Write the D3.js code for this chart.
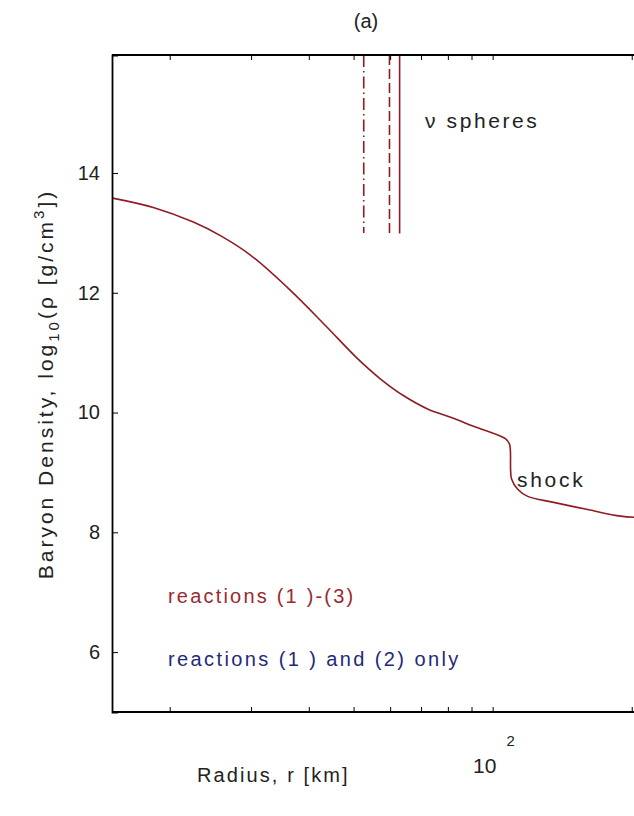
<!DOCTYPE html>
<html>
<head>
<meta charset="utf-8">
<script src="https://cdn.jsdelivr.net/npm/d3@7"></script>
<style>
  body { margin: 0; background: #fff; }
  text { font-family: "Liberation Sans", Arial, sans-serif; }
</style>
</head>
<body>
<div id="chart"></div>
<script>
// density profile
const radius = [15.05, 18.5, 22.5, 25.8, 29.9, 36.5, 43.5, 51.0, 57.2, 64.2, 72.3, 81.1, 90.9, 106.7, 108.8, 109.9, 113.3, 119.1, 135.5, 160.6, 189.2, 203];
const logRho = [13.58, 13.42, 13.18, 12.95, 12.63, 12.04, 11.45, 10.90, 10.56, 10.28, 10.06, 9.92, 9.77, 9.56, 9.47, 8.89, 8.72, 8.60, 8.50, 8.38, 8.27, 8.25];

// neutrino spheres
const sphereR = [52.6, 59.8, 62.9];
const sphereBottom = [13.0, 12.94, 12.99];
const sphereDash = ["12,4,1.5,4", "10,4", null];

const yTicks = [6, 8, 10, 12, 14];
const xTicks = [20, 30, 40, 50, 60, 70, 80, 90, 100, 200];

const width = 634, height = 816;
const mLeft = 112, mTop = 55, mBottom = 712;
const perDecade = 462;

const svg = d3.select("#chart").append("svg")
  .attr("width", width)
  .attr("height", height);

const x = d3.scaleLog()
  .domain([15, 1000])
  .range([mLeft, mLeft + perDecade * Math.log10(1000 / 15)]);

const y = d3.scaleLinear()
  .domain([5, 15.97])
  .range([mBottom, mTop]);

const red = "#8e1c22";
const ink = "#222";

svg.append("clipPath").attr("id", "plot")
  .append("rect")
  .attr("x", mLeft).attr("y", mTop)
  .attr("width", width - mLeft).attr("height", mBottom - mTop);

const g = svg.append("g").attr("clip-path", "url(#plot)");

// curve
const line = d3.line()
  .x((d, i) => x(radius[i]))
  .y(d => y(d))
  .curve(d3.curveCatmullRom.alpha(0.5));

g.append("path")
  .datum(logRho)
  .attr("d", line)
  .attr("fill", "none")
  .attr("stroke", red)
  .attr("stroke-width", 1.6);

// sphere lines
g.selectAll(".sphere")
  .data(sphereR)
  .enter()
  .append("line")
  .attr("class", "sphere")
  .attr("x1", d => x(d))
  .attr("x2", d => x(d))
  .attr("y1", y(15.97))
  .attr("y2", (d, i) => y(sphereBottom[i]))
  .attr("stroke", red)
  .attr("stroke-width", 1.6)
  .attr("stroke-dasharray", (d, i) => sphereDash[i]);

// axes
svg.append("g") // left
  .attr("transform", `translate(${mLeft},0)`)
  .call(d3.axisLeft(y).tickValues(yTicks).tickSize(-6).tickPadding(12))
  .call(a => a.select(".domain").attr("stroke-width", 1.8))
  .call(a => a.selectAll("text").attr("font-size", 20).attr("fill", ink));

svg.append("g") // bottom
  .attr("transform", `translate(0,${mBottom})`)
  .call(d3.axisBottom(x).tickValues(xTicks).tickSize(-5).tickFormat(""))
  .call(a => a.select(".domain").attr("d", `M${mLeft},0H${width}`).attr("stroke-width", 1.8));

svg.append("g") // top
  .attr("transform", `translate(0,${mTop})`)
  .call(d3.axisTop(x).tickValues(xTicks).tickSize(-5).tickFormat(""))
  .call(a => a.select(".domain").attr("d", `M${mLeft},0H${width}`).attr("stroke-width", 1.8));

// 10^2 label
svg.append("text")
  .attr("x", x(100) - 8)
  .attr("y", 773)
  .attr("text-anchor", "middle")
  .attr("font-size", 21)
  .attr("fill", ink)
  .text("10");
svg.append("text")
  .attr("x", x(100) + 18)
  .attr("y", 746)
  .attr("text-anchor", "middle")
  .attr("font-size", 15)
  .attr("fill", ink)
  .text("2");

// titles and labels
svg.append("text")
  .attr("x", 366).attr("y", 28)
  .attr("text-anchor", "middle")
  .attr("font-size", 20)
  .attr("fill", ink)
  .text("(a)");

svg.append("text")
  .attr("x", 197).attr("y", 782)
  .attr("font-size", 20)
  .attr("letter-spacing", 2.1)
  .attr("fill", ink)
  .text("Radius, r  [km]");

const yl = svg.append("text")
  .attr("transform", "translate(53,384) rotate(-90)")
  .attr("text-anchor", "middle")
  .attr("font-size", 21)
  .attr("letter-spacing", 3)
  .attr("fill", ink);
yl.append("tspan").text("Baryon Density, log");
yl.append("tspan").attr("font-size", 15).attr("dy", 6).text("10");
yl.append("tspan").attr("dy", -6).text("(ρ [g/cm");
yl.append("tspan").attr("font-size", 15).attr("dy", -9).text("3");
yl.append("tspan").attr("dy", 9).text("])");

svg.append("text")
  .attr("x", 425).attr("y", 128)
  .attr("font-size", 21)
  .attr("letter-spacing", 2.6)
  .attr("fill", ink)
  .text("ν spheres");

svg.append("text")
  .attr("x", 517).attr("y", 487)
  .attr("font-size", 21)
  .attr("letter-spacing", 2.7)
  .attr("fill", ink)
  .text("shock");

svg.append("text")
  .attr("x", 168).attr("y", 603)
  .attr("font-size", 20)
  .attr("letter-spacing", 2.2)
  .attr("fill", "#9a2a30")
  .text("reactions (1 )-(3)");

svg.append("text")
  .attr("x", 168).attr("y", 666)
  .attr("font-size", 20)
  .attr("letter-spacing", 2.4)
  .attr("fill", "#1e2a78")
  .text("reactions (1 ) and (2) only");
</script>
</body>
</html>
